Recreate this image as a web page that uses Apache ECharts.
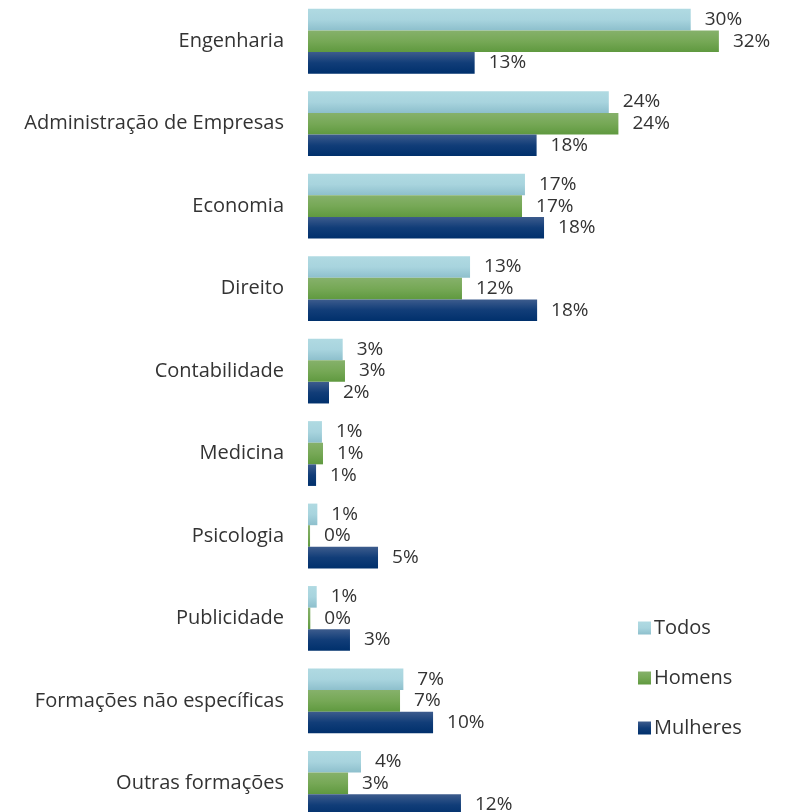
<!DOCTYPE html>
<html>
<head>
<meta charset="utf-8">
<script src="https://cdn.jsdelivr.net/npm/echarts@6/dist/echarts.min.js"></script>
<style>
  html, body { margin: 0; padding: 0; background: #ffffff; overflow: hidden; }
  /* the last group runs past the bottom edge of the view */
  #chart { width: 786px; height: 825px; }
</style>
</head>
<body>
<div id="chart"></div>
<script>
// Course of study, top to bottom
const categories = [
  'Engenharia',
  'Administração de Empresas',
  'Economia',
  'Direito',
  'Contabilidade',
  'Medicina',
  'Psicologia',
  'Publicidade',
  'Formações não específicas',
  'Outras formações'
];

// Share of each group (%)
const todos    = [29.9, 23.5, 16.95, 12.66, 2.71, 1.09, 0.73, 0.68, 7.45, 4.14];
const homens   = [32.1, 24.25, 16.72, 12.03, 2.89, 1.17, 0.16, 0.18, 7.19, 3.13];
const mulheres = [13.02, 17.86, 18.44, 17.9, 1.64, 0.63, 5.47, 3.28, 9.77, 11.95];

const seriesNames = ['Todos', 'Homens', 'Mulheres'];

const FONT = '"Open Sans", "Noto Sans", sans-serif';
const TEXT = '#333333';

function grad(top, mid, bottom) {
  return new echarts.graphic.LinearGradient(0, 0, 0, 1, [
    { offset: 0, color: top },
    { offset: 0.5, color: mid },
    { offset: 1, color: bottom }
  ]);
}

const palette = [
  ['#b0dae2', '#a8d4de', '#8dbfcc'],
  ['#86b16b', '#76a856', '#5f993f'],
  ['#3d5c8d', '#113d78', '#00306c']
];

function makeSeries(name, data, idx) {
  return {
    name: name,
    type: 'bar',
    data: data,
    barWidth: 21.6,
    barGap: '0%',
    itemStyle: { color: grad.apply(null, palette[idx]) },
    label: {
      show: true,
      position: 'right',
      distance: 14,
      color: TEXT,
      fontFamily: FONT,
      fontSize: 19,
      formatter: p => Math.round(p.value) + '%'
    },
    animation: false
  };
}

const chart = echarts.init(document.getElementById('chart'), null, { renderer: 'canvas' });

chart.setOption({
  backgroundColor: '#ffffff',
  animation: false,
  grid: { left: 308, top: 0, right: 30, bottom: 0.4, containLabel: false },
  xAxis: {
    type: 'value',
    min: 0,
    max: 35,
    show: false
  },
  yAxis: {
    type: 'category',
    data: categories,
    inverse: true,
    axisLine: { show: false },
    axisTick: { show: false },
    axisLabel: {
      margin: 24,
      color: TEXT,
      fontFamily: FONT,
      fontSize: 20
    }
  },
  legend: {
    orient: 'vertical',
    left: 633,
    top: 612,
    itemWidth: 13,
    itemHeight: 13,
    itemGap: 28,
    textStyle: { color: TEXT, fontFamily: FONT, fontSize: 20, lineHeight: 22, padding: [0, 0, 0, -2] },
    data: seriesNames.map((n, i) => ({ name: n, icon: 'rect', itemStyle: { color: grad.apply(null, palette[i]) } }))
  },
  series: [
    makeSeries(seriesNames[0], todos, 0),
    makeSeries(seriesNames[1], homens, 1),
    makeSeries(seriesNames[2], mulheres, 2)
  ]
});
</script>
</body>
</html>
